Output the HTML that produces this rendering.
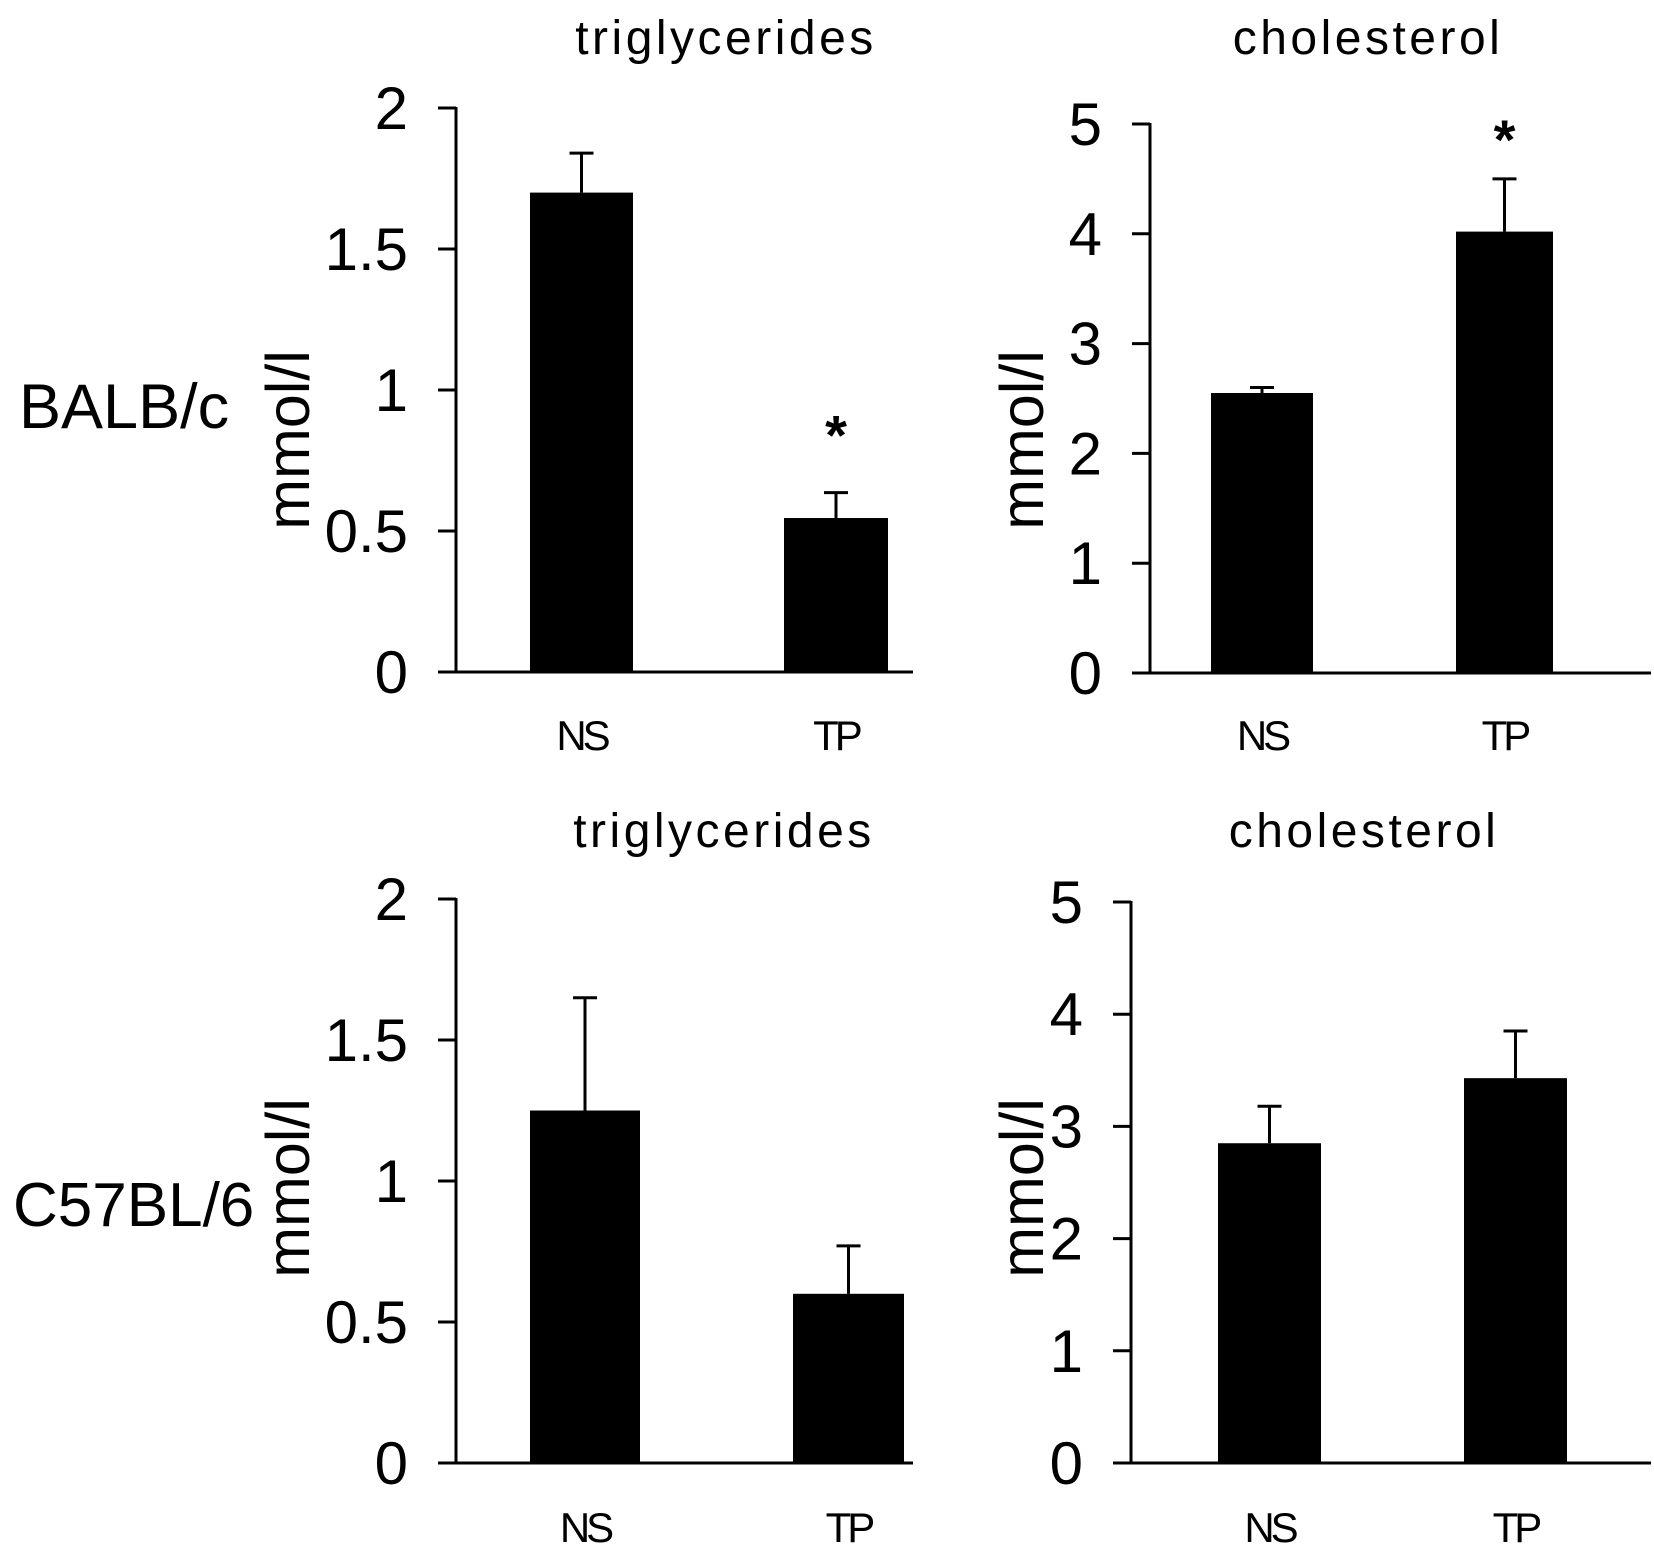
<!DOCTYPE html>
<html><head><meta charset="utf-8"><style>
body{margin:0;background:#fff}
svg{display:block;font-family:"Liberation Sans",Arial,sans-serif}
</style></head><body>
<svg id="fig" width="1654" height="1560" viewBox="0 0 1654 1560" xmlns="http://www.w3.org/2000/svg">
<text x="19" y="428" font-size="63">BALB/c</text>
<text x="13" y="1226" font-size="62">C57BL/6</text>
</svg>
<script>
const categories = ["NS", "TP"];
const tgBalbValues = [1.70, 0.546];
const tgBalbErrors = [0.14, 0.09];
const cholBalbValues = [2.55, 4.02];
const cholBalbErrors = [0.05, 0.48];
const tgC57Values = [1.25, 0.60];
const tgC57Errors = [0.40, 0.17];
const cholC57Values = [2.85, 3.43];
const cholC57Errors = [0.33, 0.42];
const tgTicks = ["0", "0.5", "1", "1.5", "2"];
const cholTicks = ["0", "1", "2", "3", "4", "5"];
const balbStars = ["", "*"];
const c57Stars = ["", ""];

const NS = "http://www.w3.org/2000/svg";
const svg = document.getElementById("fig");
function mk(tag, attrs, parent){
  const e = document.createElementNS(NS, tag);
  for (const k in attrs) e.setAttribute(k, attrs[k]);
  (parent || svg).appendChild(e);
  return e;
}
const panels = [
  {id:"tg-balbc", title:"triglycerides", vals:tgBalbValues, errs:tgBalbErrors, ticks:tgTicks, max:2, stars:balbStars, starGap:38,
   ax:456, top:108, zero:672, xend:913, bars:[[530,633],[784,888]], titleX:726, titleY:54, labY:750, ylX:309, ylY:440},
  {id:"chol-balbc", title:"cholesterol", vals:cholBalbValues, errs:cholBalbErrors, ticks:cholTicks, max:5, stars:balbStars, starGap:20,
   ax:1150, top:124, zero:673, xend:1651, bars:[[1211,1313],[1456,1553]], titleX:1368, titleY:54, labY:750, ylX:1043, ylY:440},
  {id:"tg-c57", title:"triglycerides", vals:tgC57Values, errs:tgC57Errors, ticks:tgTicks, max:2, stars:c57Stars, starGap:20,
   ax:456, top:899, zero:1463, xend:913, bars:[[530,640],[793,904]], titleX:724, titleY:847, labY:1542, ylX:309, ylY:1188},
  {id:"chol-c57", title:"cholesterol", vals:cholC57Values, errs:cholC57Errors, ticks:cholTicks, max:5, stars:c57Stars, starGap:20,
   ax:1131, top:902, zero:1463, xend:1651, bars:[[1218,1321],[1464,1567]], titleX:1364, titleY:847, labY:1542, ylX:1043, ylY:1188}
];
panels.forEach(p => {
  const g = mk("g", {});
  
  
  const y = v => p.zero - (v / p.max) * (p.zero - p.top);
  const t = mk("text", {x:p.titleX, y:p.titleY, "font-size":48, "letter-spacing":"3.5", "text-anchor":"middle"}, g);
  t.textContent = p.title;
  
  
  const yl = mk("text", {transform:`translate(${p.ylX},${p.ylY}) rotate(-90)`, "font-size":61, "text-anchor":"middle"}, g);
  yl.textContent = "mmol/l";
  
  
  const yAxis = mk("line", {x1:p.ax, y1:p.top-1, x2:p.ax, y2:p.zero, stroke:"#000", "stroke-width":3}, g);
  
  
  const xAxis = mk("line", {x1:p.ax-18, y1:p.zero, x2:p.xend, y2:p.zero, stroke:"#000", "stroke-width":3}, g);
  
  
  p.ticks.forEach(lbl => {
    const v = parseFloat(lbl), ty = y(v);
    const tk = mk("line", {x1:p.ax-18, y1:ty, x2:p.ax, y2:ty, stroke:"#000", "stroke-width":3}, g);
    
    
    const tl = mk("text", {x:p.ax-48, y:ty+21, "font-size":60, "text-anchor":"end"}, g);
    tl.textContent = lbl;
    
    
  });
  categories.forEach((c, i) => {
    const [x0, x1] = p.bars[i], cx = (x0 + x1) / 2;
    const top = y(p.vals[i]), et = y(p.vals[i] + p.errs[i]);
    const eb = mk("line", {x1:cx, y1:top, x2:cx, y2:et, stroke:"#000", "stroke-width":3}, g);
    
    
    const cap = mk("line", {x1:cx-12, y1:et, x2:cx+12, y2:et, stroke:"#000", "stroke-width":3}, g);
    
    
    const r = mk("rect", {x:x0, y:top, width:x1-x0, height:p.zero-top, fill:"#000"}, g);
    
    
    const xl = mk("text", {x:cx, y:p.labY, "font-size":42, "text-anchor":"middle", "letter-spacing":"-4"}, g);
    xl.textContent = c;
    
    
    if (p.stars[i]) {
      const s = mk("text", {x:cx, y:et-p.starGap, "font-size":56, "font-weight":"bold", "text-anchor":"middle"}, g);
      s.textContent = p.stars[i];
      
      
    }
  });
});
</script>
</body></html>
